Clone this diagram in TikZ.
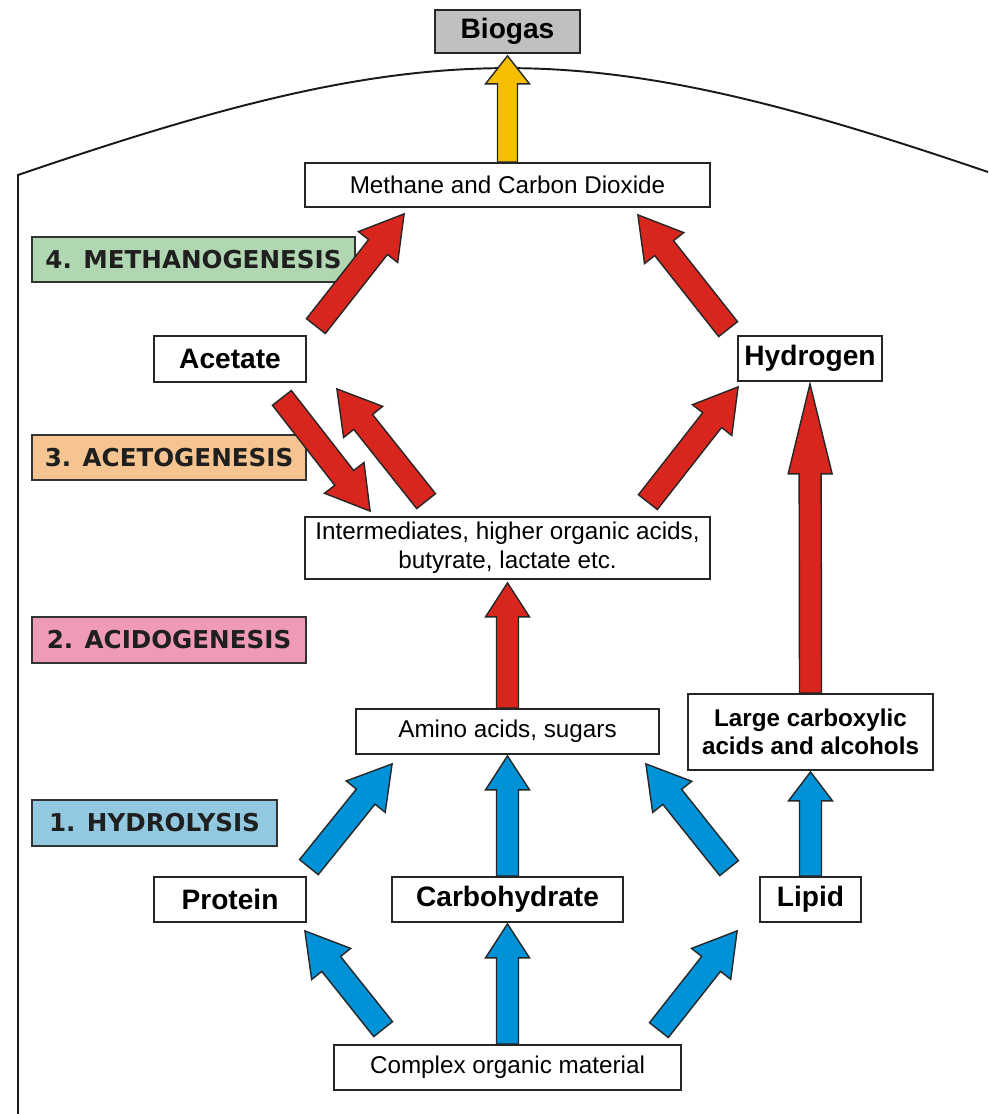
\documentclass[tikz,border=0pt]{standalone}
\usepackage{fontspec}
\setmainfont{Liberation Sans}
\newfontfamily\stagefont{DejaVu Sans}
\usetikzlibrary{calc}

\definecolor{flowred}{RGB}{216,38,30}
\definecolor{flowblue}{RGB}{0,146,214}
\definecolor{flowyellow}{RGB}{245,190,0}
\definecolor{gasgray}{RGB}{192,192,192}
\definecolor{stagegreen}{RGB}{176,214,178}
\definecolor{stageorange}{RGB}{245,196,144}
\definecolor{stagepink}{RGB}{240,154,186}
\definecolor{stageblue}{RGB}{146,200,224}

\tikzset{
  shaftw/.store in=\shaftw, headw/.store in=\headw, headl/.store in=\headl,
  shaftw=4.8mm, headw=10mm, headl=8.4mm,
  blockarrow/.style={draw=black!85, line width=0.8pt, line join=miter,
    to path={let \p1=(\tikztostart), \p2=(\tikztotarget),
      \n1={atan2(\y2-\y1,\x2-\x1)}, \n2={veclen(\x2-\x1,\y2-\y1)} in
      ($(\p1)+(\n1+90:0.5*\shaftw)$)
      -- ($(\p1)+(\n1:\n2-\headl)+(\n1+90:0.5*\shaftw)$)
      -- ($(\p1)+(\n1:\n2-\headl)+(\n1+90:0.5*\headw)$)
      -- (\p2)
      -- ($(\p1)+(\n1:\n2-\headl)+(\n1-90:0.5*\headw)$)
      -- ($(\p1)+(\n1:\n2-\headl)+(\n1-90:0.5*\shaftw)$)
      -- ($(\p1)+(\n1-90:0.5*\shaftw)$) -- cycle}},
  upright/.style={shaftw=4.4mm, headw=8.8mm, headl=6.8mm}
}

\begin{document}
\begin{tikzpicture}[x=0.2mm,y=-0.2mm]
  \useasboundingbox (0,0) rectangle (988,1114);

  % digester wall and dome
  \draw[line width=1.1pt, black!90] (18,1114) -- (18,175)
    .. controls (430,34) and (578,32) .. (988,172);

  \begin{scope}[every node/.style={draw=black!85, line width=1pt, fill=white,
      inner sep=0pt, align=center, font=\fontsize{13.8}{16.5}\selectfont}]
    \node[minimum width=81mm, minimum height=8.8mm] (methane) at (507.5,185) {Methane and Carbon Dioxide};
    \node[minimum width=81mm, minimum height=12.4mm] (inter) at (507.5,548) {Intermediates, higher organic acids,\\butyrate, lactate etc.};
    \node[minimum width=60.6mm, minimum height=9mm] (amino) at (507.5,731.5) {Amino acids, sugars};
    \node[minimum width=69.4mm, minimum height=9mm] (complex) at (507.5,1067.5) {Complex organic material};
  \end{scope}

  \begin{scope}[every node/.style={draw=black!85, line width=1pt, fill=white,
      inner sep=0pt, align=center, minimum height=9mm,
      font=\bfseries\fontsize{16}{19}\selectfont}]
    \node[fill=gasgray, minimum width=29mm, minimum height=8.6mm] (biogas) at (507.5,31.5) {Biogas};
    \node[minimum width=30.4mm, minimum height=9.2mm] (acetate) at (230,359) {Acetate};
    \node[minimum width=28.8mm] (hydrogen) at (810,358.5) {Hydrogen};
    \node[minimum width=49mm, minimum height=15.2mm, font=\bfseries\fontsize{13.8}{16}\selectfont] (large) at (810.5,732) {Large carboxylic\\acids and alcohols};
    \node[minimum width=30.4mm] (protein) at (230,899.5) {Protein};
    \node[minimum width=46.2mm] (carbo) at (507.5,899.5) {Carbohydrate};
    \node[minimum width=20.2mm] (lipid) at (810.5,899.5) {Lipid};
  \end{scope}

  \begin{scope}[every node/.style={draw=black!80, line width=1pt, inner sep=0pt,
      minimum height=9mm, text=black!88,
      font=\stagefont\bfseries\fontsize{14}{16}\selectfont}]
    \node[fill=stagegreen, minimum width=64.6mm] (meth) at (193.5,259.5) {4. METHANOGENESIS};
    \node[fill=stageorange, minimum width=54.8mm] (aceto) at (169,457.5) {3. ACETOGENESIS};
    \node[fill=stagepink, minimum width=54.8mm, minimum height=9.2mm] (acido) at (169,640) {2. ACIDOGENESIS};
    \node[fill=stageblue, minimum width=49mm, minimum height=9.2mm] (hydro) at (154.5,823) {1. HYDROLYSIS};
  \end{scope}

  % gas out
  \path (methane.north) edge[blockarrow, fill=flowyellow, shaftw=4mm, headw=8.8mm, headl=5.6mm] ([shift={(0,2)}]biogas.south);

  \begin{scope}[every edge/.style={blockarrow, fill=flowred}]
    \path ([shift={(9,-9)}]acetate.north east) edge ([shift={(100,6)}]methane.south west);
    \path ([shift={(-9,-6)}]hydrogen.north west) edge ([shift={(-73,7)}]methane.south east);
    \path ([shift={(-25,15)}]acetate.south east) edge ([shift={(66,-5)}]inter.north west);
    \path ([shift={(122,-15)}]inter.north west) edge ([shift={(30,6)}]acetate.south east);
    \path ([shift={(-63,-14)}]inter.north east) edge ([shift={(1,5)}]hydrogen.south west);
    \path (amino.north) edge[upright] ([shift={(0,3)}]inter.south);
    \path (large.north) edge[upright, headl=18mm] ([shift={(0,2)}]hydrogen.south);
  \end{scope}

  \begin{scope}[every edge/.style={blockarrow, fill=flowblue}]
    \path ([shift={(2,-9)}]protein.north east) edge ([shift={(37,9)}]amino.south west);
    \path ([shift={(-30,-8)}]lipid.north west) edge ([shift={(-14,9)}]amino.south east);
    \path (carbo.north) edge[upright] ([shift={(0,1)}]amino.south);
    \path (lipid.north) edge[upright, headl=5.8mm] ([shift={(0,1)}]large.south);
    \path ([shift={(50,-15)}]complex.north west) edge ([shift={(-2,8)}]protein.south east);
    \path (complex.north) edge[upright] ([shift={(0,1)}]carbo.south);
    \path ([shift={(-23,-14)}]complex.north east) edge ([shift={(-22,8)}]lipid.south west);
  \end{scope}

\end{tikzpicture}
\end{document}
